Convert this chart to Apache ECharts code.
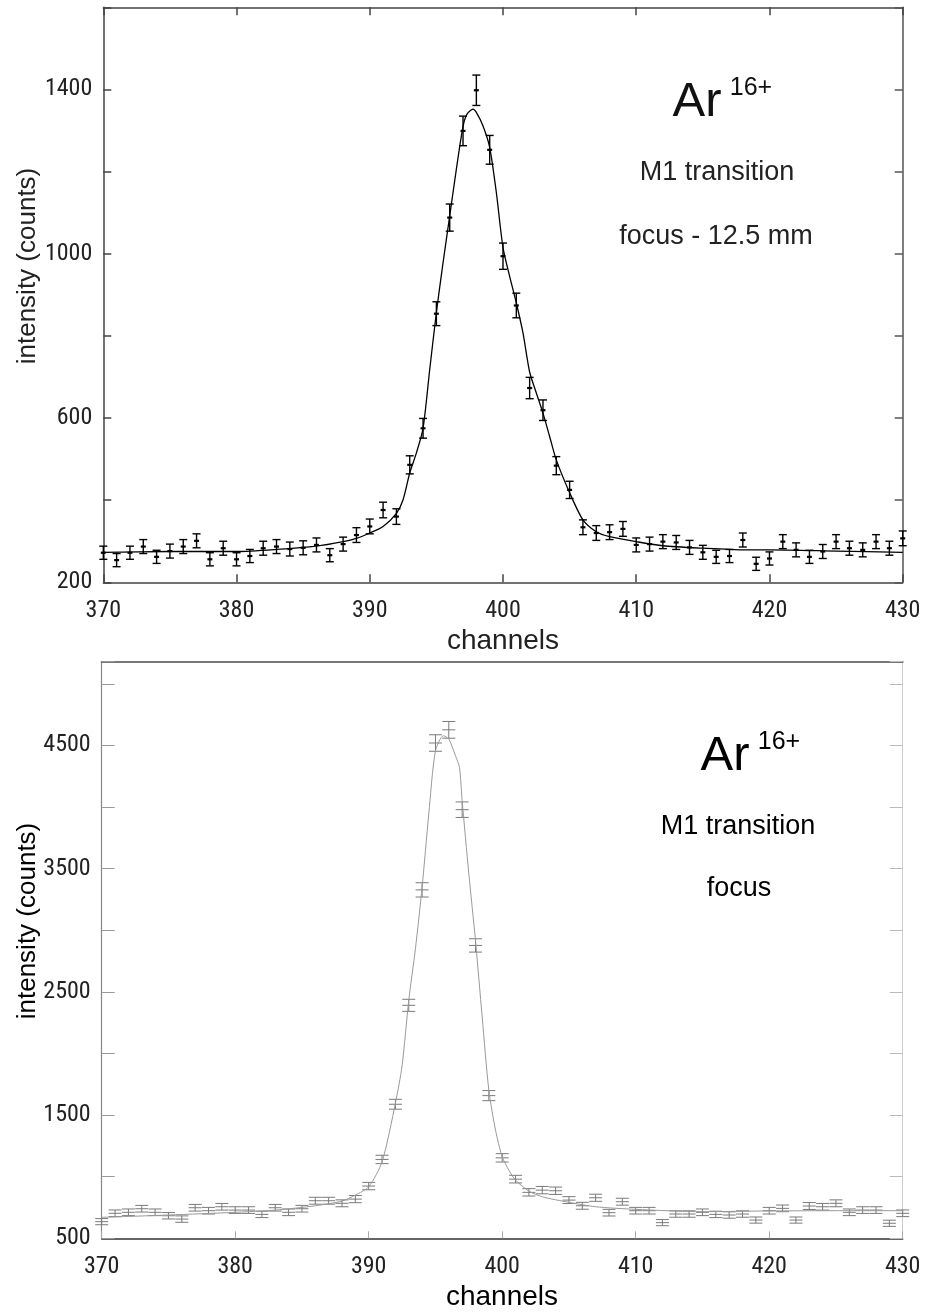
<!DOCTYPE html>
<html>
<head>
<meta charset="utf-8">
<script src="https://cdn.jsdelivr.net/npm/echarts@6/dist/echarts.min.js"></script>
<style>
  html, body { margin: 0; padding: 0; background: #fff; }
  #chart { width: 925px; height: 1316px; }
</style>
</head>
<body>
<div id="chart"></div>
<script>
// ---------- DATA ----------
const channels = [370,371,372,373,374,375,376,377,378,379,380,381,382,383,384,385,386,387,388,389,390,391,392,393,394,395,396,397,398,399,400,401,402,403,404,405,406,407,408,409,410,411,412,413,414,415,416,417,418,419,420,421,422,423,424,425,426,427,428,429,430];

// Top panel: focus - 12.5 mm
const topCounts = [272,254,272,287,262,276,287,301,256,283,256,264,283,287,281,284,291,266,293,315,336,376,360,486,575,854,1088,1299,1398,1253,994,874,673,619,484,425,334,320,322,330,291,293,299,297,285,273,262,264,303,245,258,299,279,262,275,299,283,279,299,283,307];
const topErrors = [16,16,16,17,16,17,17,17,16,17,16,16,17,17,17,17,17,16,17,18,18,19,19,22,24,29,33,36,37,35,32,30,26,25,22,21,18,18,18,18,17,17,17,17,17,17,16,16,17,16,16,17,17,16,17,17,17,17,17,17,18];
const topFitX = [370,375,380,383,386,388,389,390,391,392,392.5,393,393.5,394,394.5,395,395.5,396,396.5,397,397.3,397.75,398,398.5,399,399.5,400,400.5,401,401.5,402,402.5,403,403.5,404,405,406,407,408,410,412,415,418,420,425,430];
const topFitY = [273,275,275,280,288,299,307,320,336,368,401,466,515,575,718,857,978,1092,1206,1310,1340,1352,1344,1311,1259,1149,1015,945,880,807,712,661,612,555,498,418,352,323,311,299,289,283,279,279,276,273];

// Bottom panel: focus
const botCounts = [635,703,711,740,711,683,656,748,724,756,729,729,694,748,711,740,805,805,784,818,924,1140,1588,2391,3328,4520,4627,3979,2877,1658,1153,980,873,891,886,810,764,829,708,797,724,724,627,697,697,711,694,689,697,648,724,743,648,762,756,784,711,729,729,622,703];
const botErrors = [25,27,27,27,27,26,26,27,27,27,27,27,26,27,27,27,28,28,28,29,30,34,40,49,58,67,68,63,54,41,34,31,30,30,30,28,28,29,27,28,27,27,25,26,26,27,26,26,26,25,27,27,25,28,27,28,27,27,27,25,27];
const botFitX = [370,375,380,383,386,388,389,390,391,392,392.5,393,393.5,394,394.5,395,395.6,396,396.5,396.8,397,397.5,398,398.5,399,399.5,400,400.5,401,402,403,405,407,410,415,420,425,430];
const botFitY = [670,689,711,729,764,802,851,918,1121,1596,1900,2431,2850,3349,3944,4457,4579,4552,4417,4322,4052,3458,2917,2296,1702,1378,1161,1053,972,883,837,792,756,735,716,722,724,724];

// Tick settings
const xMin = 370, xMax = 430, xStep = 10;
const topYMin = 200, topYMax = 1600, topYStep = 200, topYLabelStep = 400;
const botYMin = 500, botYMax = 5180, botYStep = 500, botYLabelStep = 1000, botYLabelMax = 4500;

// ---------- HELPERS ----------
const zip2 = (a, b) => a.map((v, i) => [v, b[i]]);
const zip3 = (a, b, c) => a.map((v, i) => [v, b[i], c[i]]);
const tickFont = "'Liberation Sans Narrow', 'Roboto Condensed', 'Noto Sans Condensed', 'Open Sans Condensed', 'DejaVu Sans Condensed', sans-serif";
const textFont = "'Liberation Sans', Arial, sans-serif";

function errorBar(color, capW, midW, lw, midLw) {
  return function (params, api) {
    const x = api.value(0), y = api.value(1), e = api.value(2);
    const c = api.coord([x, y]);
    const t = api.coord([x, y + e]);
    const b = api.coord([x, y - e]);
    const st = { stroke: color, lineWidth: lw };
    return {
      type: 'group',
      children: [
        { type: 'line', shape: { x1: c[0], y1: t[1], x2: c[0], y2: b[1] }, style: st },
        { type: 'line', shape: { x1: c[0] - capW, y1: t[1], x2: c[0] + capW, y2: t[1] }, style: st },
        { type: 'line', shape: { x1: c[0] - capW, y1: b[1], x2: c[0] + capW, y2: b[1] }, style: st },
        { type: 'line', shape: { x1: c[0] - midW, y1: c[1], x2: c[0] + midW, y2: c[1] }, style: { stroke: color, lineWidth: midLw } }
      ]
    };
  };
}

function xAx(gridIndex, pos, opts) {
  return Object.assign({
    type: 'value', gridIndex: gridIndex, position: pos,
    min: xMin, max: xMax, interval: xStep,
    splitLine: { show: false },
    axisLine: { onZero: false, lineStyle: { color: '#444', width: 1.5 } },
    axisTick: { inside: true, length: 8, lineStyle: { color: '#444', width: 1.5 } },
    axisLabel: { show: false }
  }, opts);
}

const tickLabel = { fontFamily: tickFont, fontSize: 24, color: '#222' };

// ---------- CHART ----------
const chart = echarts.init(document.getElementById('chart'), null, { renderer: 'canvas' });

const option = {
  animation: false,
  backgroundColor: '#ffffff',
  grid: [
    { left: 103.3, top: 7.3, width: 799.4, height: 575 },
    { left: 101.7, top: 661.7, width: 801, height: 576.6 }
  ],
  xAxis: [
    xAx(0, 'bottom', {
      axisLabel: Object.assign({ show: true, margin: 17 }, tickLabel)
    }),
    xAx(0, 'top', {}),
    xAx(1, 'bottom', {
      axisLine: { onZero: false, lineStyle: { color: '#333', width: 1.5 } },
      axisTick: { inside: true, length: 7, lineStyle: { color: '#aaa', width: 1 } },
      axisLabel: Object.assign({ show: true, margin: 17 }, tickLabel)
    }),
    xAx(1, 'top', {
      axisLine: { onZero: false, lineStyle: { color: '#777', width: 2 } },
      axisTick: { show: false }
    })
  ],
  yAxis: [
    {
      type: 'value', gridIndex: 0, position: 'left',
      min: topYMin, max: topYMax, interval: topYStep,
      splitLine: { show: false },
      axisLine: { show: true, onZero: false, lineStyle: { color: '#444', width: 1.5 } },
      axisTick: { show: true, inside: true, length: 8, lineStyle: { color: '#444', width: 1.5 } },
      axisLabel: Object.assign({
        margin: 11,
        formatter: v => ((v - topYMin) % topYLabelStep === 0 && v < topYMax) ? String(v) : ''
      }, tickLabel)
    },
    {
      type: 'value', gridIndex: 0, position: 'right',
      min: topYMin, max: topYMax, interval: topYStep,
      splitLine: { show: false },
      axisLine: { show: true, onZero: false, lineStyle: { color: '#555', width: 1.5 } },
      axisTick: { show: true, inside: true, length: 8, lineStyle: { color: '#555', width: 1.5 } },
      axisLabel: { show: false }
    },
    {
      type: 'value', gridIndex: 1, position: 'left',
      min: botYMin, max: botYMax, interval: botYStep,
      splitLine: { show: false },
      axisLine: { show: true, onZero: false, lineStyle: { color: '#888', width: 1.2 } },
      axisTick: { show: true, inside: true, length: 13, lineStyle: { color: '#999', width: 1 } },
      axisLabel: Object.assign({
        margin: 11,
        formatter: v => ((v - botYMin) % botYLabelStep === 0 && v <= botYLabelMax) ? String(v) : ''
      }, tickLabel)
    },
    {
      type: 'value', gridIndex: 1, position: 'right',
      min: botYMin, max: botYMax, interval: botYStep,
      splitLine: { show: false },
      axisLine: { show: true, onZero: false, lineStyle: { color: '#ccc', width: 1 } },
      axisTick: { show: true, inside: true, length: 13, lineStyle: { color: '#bbb', width: 1 } },
      axisLabel: { show: false }
    }
  ],
  series: [
    {
      type: 'line', xAxisIndex: 0, yAxisIndex: 0,
      data: zip2(topFitX, topFitY),
      showSymbol: false, smooth: 0.25,
      lineStyle: { color: '#000', width: 1.3 }, silent: true
    },
    {
      type: 'custom', xAxisIndex: 0, yAxisIndex: 0,
      data: zip3(channels, topCounts, topErrors),
      encode: { x: 0, y: 1 },
      renderItem: errorBar('#000', 4, 2.5, 1.4, 2.2), silent: true
    },
    {
      type: 'line', xAxisIndex: 2, yAxisIndex: 2,
      data: zip2(botFitX, botFitY),
      showSymbol: false, smooth: 0.25,
      lineStyle: { color: '#999', width: 1 }, silent: true
    },
    {
      type: 'custom', xAxisIndex: 2, yAxisIndex: 2,
      data: zip3(channels, botCounts, botErrors),
      encode: { x: 0, y: 1 },
      renderItem: errorBar('#7a7a7a', 6.5, 6.5, 1, 1), silent: true
    }
  ],
  graphic: [
    // top panel annotations
    { type: 'text', x: 697, y: 102, style: { text: 'Ar', font: '49px ' + textFont, fill: '#111', textAlign: 'center', textVerticalAlign: 'middle' } },
    { type: 'text', x: 751, y: 88, style: { text: '16+', font: '25px ' + textFont, fill: '#111', textAlign: 'center', textVerticalAlign: 'middle' } },
    { type: 'text', x: 717, y: 173, style: { text: 'M1 transition', font: '27px ' + textFont, fill: '#222', textAlign: 'center', textVerticalAlign: 'middle' } },
    { type: 'text', x: 716, y: 237, style: { text: 'focus - 12.5 mm', font: '27px ' + textFont, fill: '#222', textAlign: 'center', textVerticalAlign: 'middle' } },
    { type: 'text', x: 28, y: 266, rotation: Math.PI / 2, style: { text: 'intensity (counts)', font: '26px ' + textFont, fill: '#222', textAlign: 'center', textVerticalAlign: 'middle' } },
    { type: 'text', x: 503, y: 641, style: { text: 'channels', font: '28px ' + textFont, fill: '#222', textAlign: 'center', textVerticalAlign: 'middle' } },
    // bottom panel annotations
    { type: 'text', x: 725, y: 756, style: { text: 'Ar', font: '49px ' + textFont, fill: '#000', textAlign: 'center', textVerticalAlign: 'middle' } },
    { type: 'text', x: 779, y: 742, style: { text: '16+', font: '25px ' + textFont, fill: '#000', textAlign: 'center', textVerticalAlign: 'middle' } },
    { type: 'text', x: 738, y: 827, style: { text: 'M1 transition', font: '27px ' + textFont, fill: '#000', textAlign: 'center', textVerticalAlign: 'middle' } },
    { type: 'text', x: 739, y: 889, style: { text: 'focus', font: '27px ' + textFont, fill: '#000', textAlign: 'center', textVerticalAlign: 'middle' } },
    { type: 'text', x: 28, y: 921, rotation: Math.PI / 2, style: { text: 'intensity (counts)', font: '26px ' + textFont, fill: '#000', textAlign: 'center', textVerticalAlign: 'middle' } },
    { type: 'text', x: 502, y: 1297, style: { text: 'channels', font: '28px ' + textFont, fill: '#000', textAlign: 'center', textVerticalAlign: 'middle' } }
  ]
};

chart.setOption(option);
</script>
</body>
</html>
